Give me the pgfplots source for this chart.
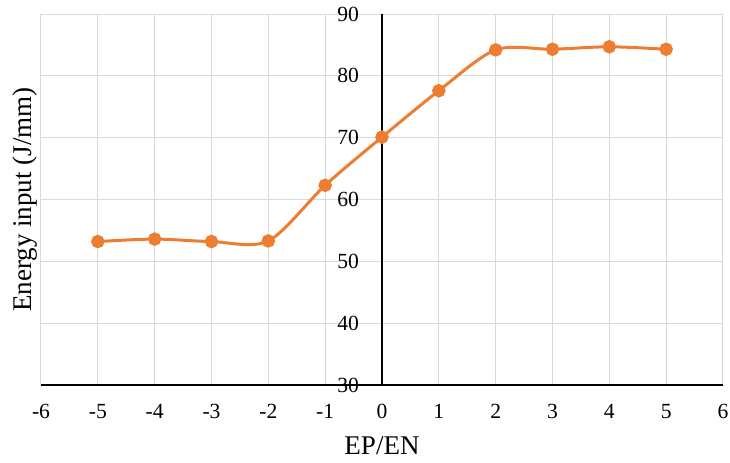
\documentclass[border=0pt]{standalone}
\usepackage{pgfplots}
\pgfplotsset{compat=1.18}
\usepackage{fontspec}
\setmainfont{Liberation Serif}
\definecolor{exorange}{HTML}{ED7D31}
\definecolor{gridgray}{HTML}{D9D9D9}
\begin{document}
\begin{tikzpicture}
\useasboundingbox (-20.5pt,-38.5pt) rectangle (344.5pt,192.5pt);
\begin{axis}[
  scale only axis,
  width=341pt, height=185.5pt,
  xmin=-6, xmax=6, ymin=30, ymax=90,
  xtick={-6,-5,...,6}, ytick={30,40,...,90},
  axis x line=bottom, axis y line=middle,
  hide obscured y ticks=false, hide obscured x ticks=false,
  axis line style={-, black, line width=0.6pt},
  grid=major,
  major grid style={gridgray, line width=0.5pt},
  major tick length=0pt,
  /pgf/number format/assume math mode=true,
  tick label style={font=\fontsize{10.8}{12}\selectfont},
  xticklabel style={yshift=-6pt},
  yticklabel style={anchor=east, xshift=-8pt},
  xlabel={EP/EN}, ylabel={Energy input (J/mm)},
  label style={font=\fontsize{13.5}{15}\selectfont},
  xlabel style={at={(rel axis cs:0.5,0)}, yshift=-30.5pt, anchor=center},
  ylabel style={at={(rel axis cs:0,0.5)}, xshift=-8pt, anchor=center, rotate=90},
  clip=false,
]
\addplot[exorange, line width=1.5pt, smooth, mark=*, mark size=2.6pt, mark options={fill=exorange, draw=exorange}]
coordinates {(-5,53.2) (-4,53.6) (-3,53.2) (-2,53.3) (-1,62.3) (0,70.1) (1,77.6) (2,84.2) (3,84.3) (4,84.7) (5,84.3)};
\end{axis}
\end{tikzpicture}
\end{document}
